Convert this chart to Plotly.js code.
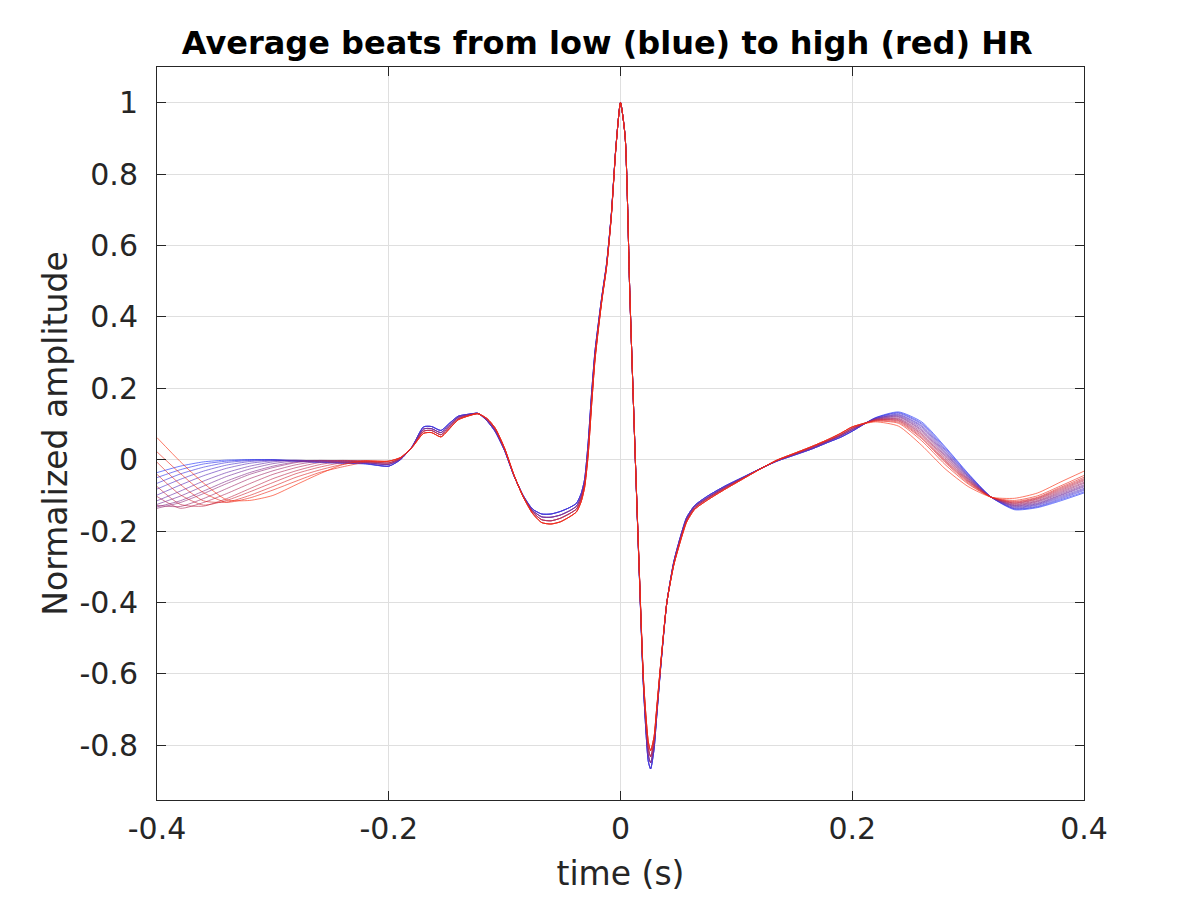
<!DOCTYPE html>
<html>
<head>
<meta charset="utf-8">
<script src="https://cdn.plot.ly/plotly-3.0.1.min.js"></script>
<style>
  html, body { margin: 0; padding: 0; background: #fff; }
  #beats { width: 1200px; height: 900px; }
</style>
</head>
<body>
<div id="beats"></div>
<script>
// Average beats, sorted from low HR (blue) to high HR (red)

// time before the P wave, one row per beat (blue first)
var tLeft = [-0.40, -0.38, -0.36, -0.34, -0.32, -0.30, -0.28, -0.26, -0.24, -0.22];
var leftBeats = [
  [-0.036, -0.018, -0.006, -0.001, 0.000, 0.000, -0.004, -0.008, -0.010, -0.012],
  [-0.050, -0.028, -0.012, -0.004, 0.000, -0.001, -0.004, -0.007, -0.009, -0.011],
  [-0.066, -0.040, -0.021, -0.008, -0.002, 0.000, -0.003, -0.006, -0.009, -0.011],
  [-0.082, -0.055, -0.032, -0.015, -0.005, -0.001, -0.002, -0.005, -0.008, -0.010],
  [-0.099, -0.071, -0.045, -0.024, -0.010, -0.003, -0.001, -0.004, -0.007, -0.009],
  [-0.115, -0.088, -0.060, -0.036, -0.018, -0.006, -0.002, -0.003, -0.006, -0.008],
  [-0.125, -0.102, -0.074, -0.047, -0.026, -0.011, -0.003, -0.002, -0.005, -0.008],
  [-0.132, -0.115, -0.088, -0.060, -0.036, -0.018, -0.006, -0.002, -0.004, -0.007],
  [-0.136, -0.120, -0.095, -0.067, -0.041, -0.022, -0.008, -0.002, -0.003, -0.006],
  [-0.128, -0.131, -0.109, -0.081, -0.053, -0.031, -0.014, -0.004, -0.002, -0.005],
  [-0.103, -0.136, -0.120, -0.095, -0.067, -0.041, -0.022, -0.008, -0.002, -0.004],
  [-0.075, -0.125, -0.130, -0.109, -0.081, -0.053, -0.031, -0.014, -0.004, -0.003],
  [-0.041, -0.098, -0.127, -0.114, -0.090, -0.064, -0.039, -0.021, -0.008, -0.003],
  [-0.007, -0.069, -0.115, -0.119, -0.100, -0.075, -0.049, -0.029, -0.013, -0.004],
  [0.022, -0.038, -0.092, -0.119, -0.107, -0.085, -0.060, -0.036, -0.020, -0.007],
  [0.062, -0.005, -0.065, -0.112, -0.114, -0.100, -0.070, -0.040, -0.014, -0.003]
];

// P-QRS-ST part, four groups of beats (they nearly overlap here)
var tMid = [-0.200, -0.190, -0.180, -0.170, -0.163, -0.155, -0.147, -0.140, -0.130, -0.123,
            -0.115, -0.108, -0.100, -0.092, -0.084, -0.076, -0.068, -0.060, -0.052, -0.044,
            -0.038, -0.034, -0.031, -0.028, -0.025, -0.022, -0.019, -0.016, -0.012, -0.008,
            -0.004, 0.000, 0.004, 0.008, 0.012, 0.016, 0.020, 0.024, 0.026, 0.029,
            0.031, 0.035, 0.040, 0.046, 0.052, 0.057, 0.064, 0.075, 0.090, 0.105,
            0.120, 0.135, 0.150, 0.165, 0.180, 0.190, 0.200];
var midBlue = [-0.018, 0.000, 0.036, 0.092, 0.093, 0.082, 0.104, 0.122, 0.128, 0.130,
               0.108, 0.078, 0.025, -0.045, -0.100, -0.138, -0.152, -0.152, -0.145, -0.134,
               -0.122, -0.095, -0.055, 0.045, 0.185, 0.305, 0.385, 0.460, 0.550, 0.685,
               0.875, 1.000, 0.905, 0.470, 0.077, -0.300, -0.650, -0.845, -0.866, -0.810,
               -0.730, -0.570, -0.400, -0.285, -0.212, -0.162, -0.128, -0.102, -0.074, -0.050,
               -0.026, -0.004, 0.013, 0.030, 0.050, 0.063, 0.080];
var midViolet = [-0.013, 0.002, 0.035, 0.086, 0.087, 0.076, 0.099, 0.119, 0.127, 0.130,
                 0.110, 0.081, 0.027, -0.044, -0.101, -0.142, -0.160, -0.161, -0.155, -0.143,
                 -0.130, -0.103, -0.063, 0.033, 0.173, 0.297, 0.379, 0.456, 0.547, 0.683,
                 0.874, 1.000, 0.905, 0.470, 0.077, -0.297, -0.642, -0.827, -0.849, -0.798,
                 -0.722, -0.567, -0.400, -0.288, -0.216, -0.166, -0.131, -0.106, -0.077, -0.052,
                 -0.026, -0.003, 0.015, 0.032, 0.053, 0.067, 0.084];
var midRose = [-0.009, 0.004, 0.035, 0.080, 0.082, 0.070, 0.094, 0.115, 0.125, 0.129,
               0.113, 0.085, 0.030, -0.043, -0.103, -0.146, -0.168, -0.171, -0.164, -0.151,
               -0.138, -0.110, -0.070, 0.022, 0.162, 0.288, 0.374, 0.452, 0.543, 0.680,
               0.873, 1.000, 0.905, 0.470, 0.077, -0.293, -0.633, -0.808, -0.832, -0.787,
               -0.713, -0.563, -0.400, -0.292, -0.221, -0.171, -0.135, -0.109, -0.080, -0.053,
               -0.027, -0.002, 0.016, 0.035, 0.055, 0.070, 0.088];
var midRed = [-0.004, 0.006, 0.034, 0.074, 0.076, 0.064, 0.089, 0.112, 0.124, 0.129,
              0.115, 0.088, 0.032, -0.042, -0.104, -0.150, -0.176, -0.180, -0.174, -0.160,
              -0.146, -0.118, -0.078, 0.010, 0.150, 0.280, 0.368, 0.448, 0.540, 0.678,
              0.872, 1.000, 0.905, 0.470, 0.077, -0.290, -0.625, -0.790, -0.815, -0.775,
              -0.705, -0.560, -0.400, -0.295, -0.225, -0.175, -0.139, -0.113, -0.083, -0.055,
              -0.027, -0.001, 0.018, 0.037, 0.058, 0.074, 0.092];
var midGroups = [midBlue, midViolet, midRose, midRed];

// T wave and after, one row per beat
var tRight = [0.22, 0.24, 0.26, 0.28, 0.30, 0.32, 0.34, 0.36, 0.38, 0.40];
var rightBeats = [
  [0.118, 0.134, 0.106, 0.037, -0.038, -0.105, -0.140, -0.134, -0.115, -0.093],
  [0.117, 0.132, 0.102, 0.034, -0.040, -0.105, -0.138, -0.132, -0.112, -0.090],
  [0.117, 0.130, 0.099, 0.030, -0.042, -0.105, -0.137, -0.130, -0.109, -0.086],
  [0.116, 0.127, 0.095, 0.027, -0.044, -0.105, -0.135, -0.127, -0.106, -0.083],
  [0.115, 0.125, 0.092, 0.023, -0.046, -0.105, -0.133, -0.125, -0.103, -0.080],
  [0.115, 0.123, 0.088, 0.020, -0.048, -0.105, -0.131, -0.123, -0.100, -0.076],
  [0.114, 0.121, 0.084, 0.017, -0.050, -0.105, -0.129, -0.121, -0.098, -0.073],
  [0.113, 0.119, 0.081, 0.013, -0.052, -0.105, -0.128, -0.118, -0.095, -0.070],
  [0.113, 0.116, 0.077, 0.010, -0.054, -0.105, -0.126, -0.116, -0.092, -0.066],
  [0.112, 0.114, 0.073, 0.006, -0.056, -0.105, -0.124, -0.114, -0.089, -0.063],
  [0.111, 0.112, 0.070, 0.003, -0.058, -0.105, -0.122, -0.111, -0.086, -0.059],
  [0.111, 0.110, 0.066, -0.001, -0.060, -0.105, -0.121, -0.109, -0.083, -0.056],
  [0.110, 0.108, 0.062, -0.004, -0.062, -0.105, -0.119, -0.107, -0.080, -0.053],
  [0.109, 0.105, 0.059, -0.007, -0.065, -0.105, -0.117, -0.105, -0.077, -0.049],
  [0.108, 0.102, 0.053, -0.013, -0.068, -0.105, -0.114, -0.101, -0.073, -0.044],
  [0.106, 0.094, 0.040, -0.025, -0.075, -0.105, -0.108, -0.093, -0.062, -0.032]
];

var xTicks = [-0.4, -0.2, 0, 0.2, 0.4];
var xTickLabels = ['-0.4', '-0.2', '0', '0.2', '0.4'];
var yTicks = [-0.8, -0.6, -0.4, -0.2, 0, 0.2, 0.4, 0.6, 0.8, 1];
var yTickLabels = ['-0.8', '-0.6', '-0.4', '-0.2', '0', '0.2', '0.4', '0.6', '0.8', '1'];

var nBeats = leftBeats.length;
var traces = [];
for (let k = 0; k < nBeats; k++) {
    var f = k / (nBeats - 1);
    var r = Math.round(30 + 220 * f);
    var g = Math.round(50 - 10 * f);
    var b = Math.round(240 * (1 - f) + 10);
    traces.push({
        x: tLeft.concat(tMid, tRight),
        y: leftBeats[k].concat(midGroups[Math.floor(k / 4)], rightBeats[k]),
        type: 'scatter',
        mode: 'lines',
        line: {color: 'rgba(' + r + ',' + g + ',' + b + ',0.62)', width: 1, shape: 'spline', smoothing: 0.6},
        hoverinfo: 'skip'
    });
}

var axisStyle = {
    ticks: 'inside',
    ticklen: 9,
    tickwidth: 1,
    tickcolor: '#262626',
    showline: true,
    linecolor: '#262626',
    linewidth: 1,
    mirror: 'ticks',
    showgrid: true,
    gridcolor: '#dfdfdf',
    gridwidth: 1,
    zeroline: false,
    tickfont: {size: 30, color: '#262626'}
};

var layout = {
    width: 1200,
    height: 900,
    margin: {l: 157, r: 116, t: 67, b: 100},
    paper_bgcolor: '#ffffff',
    plot_bgcolor: '#ffffff',
    showlegend: false,
    font: {family: 'DejaVu Sans', color: '#262626'},
    title: {
        text: 'Average beats from low (blue) to high (red) HR',
        font: {size: 32, weight: 'bold', color: '#000000'},
        x: 0.506, xref: 'container', xanchor: 'center',
        y: 0.952, yref: 'container', yanchor: 'middle'
    },
    xaxis: Object.assign({}, axisStyle, {
        range: [-0.4, 0.4],
        tickvals: xTicks,
        ticktext: xTickLabels,
        ticklabelstandoff: 2,
        title: {text: 'time (s)', font: {size: 33}, standoff: 16}
    }),
    yaxis: Object.assign({}, axisStyle, {
        range: [-0.953, 1.1],
        tickvals: yTicks,
        ticktext: yTickLabels,
        ticklabelstandoff: 12,
        title: {text: 'Normalized amplitude', font: {size: 33}, standoff: 1}
    })
};

Plotly.newPlot('beats', traces, layout, {staticPlot: true});
</script>
</body>
</html>
